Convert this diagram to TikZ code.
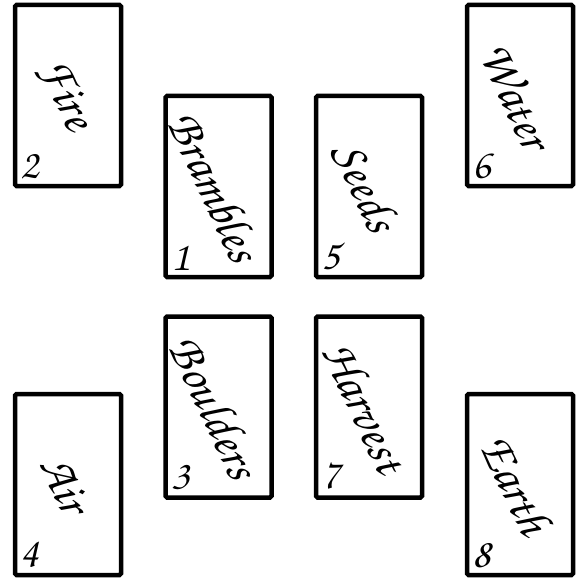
\documentclass[tikz,border=0pt]{standalone}
\usepackage[T1]{fontenc}
\usepackage{tikz}
\usetikzlibrary{positioning}
\newcommand{\cardfont}{\fontfamily{pzc}\fontseries{m}\fontshape{it}\selectfont}

\begin{document}
\begin{tikzpicture}[x=1pt, y=-1pt,
    card/.style={draw, line width=4.5pt, rounded corners=1.5pt,
      minimum width=106pt, minimum height=181pt, inner sep=0pt},
    cardname/.style={font=\cardfont\fontsize{49}{49}\selectfont, rotate=-65, inner sep=0pt},
    cardnum/.style={font=\cardfont\fontsize{42}{42}\selectfont, inner sep=0pt, anchor=south west}]
  \useasboundingbox (0,0) rectangle (579,578);
  % Spread of eight cards
  \foreach \n/\x/\y/\word in {2/68/95.5/Fire, 1/218.5/186.5/Brambles,
      5/369/186.5/Seeds, 6/520/95.5/Water, 3/218.5/407/Boulders,
      4/68/484.5/Air, 7/369/407/Harvest, 8/520/484.5/Earth} {
    \node[card] (card\n) at (\x,\y) {};
    \node[cardname] (name\n) at ([xshift=-3pt]card\n.center) {\word};
    \node[cardnum, above right=9pt and 8pt of card\n.south west] (num\n) {\n};
  }
\end{tikzpicture}
\end{document}
